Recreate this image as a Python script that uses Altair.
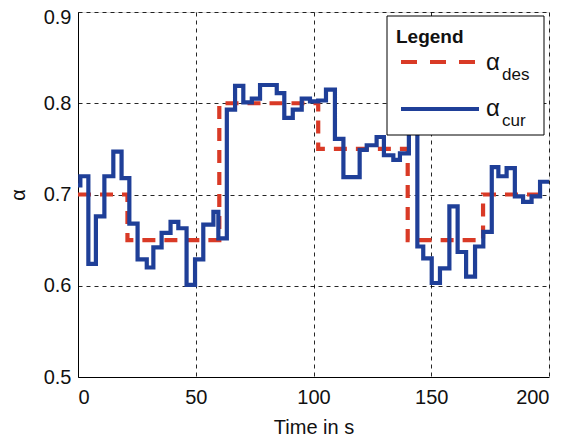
import altair as alt
import pandas as pd

# desired alpha (step values)
des_t = [0, 21, 60, 102, 140, 172, 200]
des_v = [0.70, 0.65, 0.80, 0.75, 0.65, 0.70, 0.70]

# current alpha (step values)
cur_t = [0, 1, 4.4, 7.6, 11.2, 15, 18.5, 21.8, 25.3, 29.2, 32, 35.5, 39.3, 42.6, 46.1, 49.7,
         53.2, 57.5, 59.6, 63.2, 66.7, 70.2, 73.8, 77.3, 84.4, 87.6, 91.2, 95, 98.5, 102,
         105.3, 109.1, 112.7, 119.6, 122.6, 126.8, 129.9, 133.9, 136.7, 140.5, 144.1, 146.6,
         150.2, 153.7, 157.7, 161.2, 164.8, 168.6, 172.1, 175.7, 178.5, 182, 185.5, 189,
         192.6, 196.2, 200]
cur_v = [0.71, 0.72, 0.624, 0.676, 0.72, 0.747, 0.718, 0.668, 0.629, 0.62, 0.642, 0.658, 0.67,
         0.663, 0.601, 0.629, 0.667, 0.681, 0.652, 0.793, 0.819, 0.801, 0.805, 0.82, 0.811,
         0.784, 0.793, 0.805, 0.802, 0.803, 0.815, 0.761, 0.719, 0.749, 0.754, 0.763, 0.743,
         0.738, 0.745, 0.79, 0.643, 0.63, 0.603, 0.619, 0.687, 0.637, 0.61, 0.643, 0.659,
         0.73, 0.72, 0.729, 0.698, 0.692, 0.698, 0.714, 0.714]

x_ticks = [0, 50, 100, 150, 200]
y_ticks = [0.5, 0.6, 0.7, 0.8, 0.9]

RED = "#d93a26"
BLUE = "#1f3f98"
FONT = "Liberation Sans"

des_df = pd.DataFrame({"t": des_t, "v": des_v})
cur_df = pd.DataFrame({"t": cur_t, "v": cur_v})

xs = alt.Scale(domain=[0, 200], nice=False, zero=False)
ys = alt.Scale(domain=[0.5, 0.9], nice=False, zero=False)

xax = alt.Axis(values=x_ticks, title="Time in s", grid=True, gridDash=[4, 4], gridColor="#000",
               gridOpacity=0.85, ticks=False, labelFontSize=20, titleFontSize=20,
               labelFont=FONT, titleFont=FONT, titleFontWeight="normal", labelColor="#111",
               titleColor="#111", domainColor="#000", labelPadding=10, titlePadding=10,
               format="d")
yax = alt.Axis(values=y_ticks, title="α", grid=True, gridDash=[4, 4], gridColor="#000",
               gridOpacity=0.85, ticks=False, labelFontSize=20, titleFontSize=20,
               labelFont=FONT, titleFont=FONT, titleFontWeight="normal", labelColor="#111",
               titleColor="#111", domainColor="#000", labelPadding=7, titlePadding=15,
               labelOffset={"condition": {"test": "datum.value == 0.9", "value": 5}, "value": 0},
               format=".1f")

des = alt.Chart(des_df).mark_line(interpolate="step-after", color=RED, strokeWidth=4.2,
                                  strokeDash=[13, 9]).encode(
    x=alt.X("t:Q", scale=xs, axis=xax), y=alt.Y("v:Q", scale=ys, axis=yax))
cur = alt.Chart(cur_df).mark_line(interpolate="step-after", color=BLUE, strokeWidth=4.2).encode(
    x=alt.X("t:Q", scale=xs), y=alt.Y("v:Q", scale=ys))

one = pd.DataFrame({"a": [0]})
box = alt.Chart(one).mark_rect(fill="white", stroke="#000", strokeWidth=1).encode(
    x=alt.value(309), x2=alt.value(466), y=alt.value(4), y2=alt.value(123))
title = alt.Chart(one).mark_text(text="Legend", fontWeight="bold", fontSize=19, font=FONT,
                                 align="left", baseline="alphabetic", color="#111").encode(
    x=alt.value(318), y=alt.value(31))
r1 = alt.Chart(one).mark_rule(color=RED, strokeWidth=4.2, strokeDash=[16, 13]).encode(
    x=alt.value(323), x2=alt.value(401), y=alt.value(50))
r2 = alt.Chart(one).mark_rule(color=BLUE, strokeWidth=4.2).encode(
    x=alt.value(323), x2=alt.value(401), y=alt.value(97))
a1 = alt.Chart(one).mark_text(text="α", fontSize=24, font=FONT, align="left",
                              baseline="alphabetic", color="#111").encode(
    x=alt.value(408), y=alt.value(58))
s1 = alt.Chart(one).mark_text(text="des", fontSize=17, font=FONT, align="left",
                              baseline="alphabetic", color="#111").encode(
    x=alt.value(424), y=alt.value(68))
a2 = alt.Chart(one).mark_text(text="α", fontSize=24, font=FONT, align="left",
                              baseline="alphabetic", color="#111").encode(
    x=alt.value(408), y=alt.value(104))
s2 = alt.Chart(one).mark_text(text="cur", fontSize=17, font=FONT, align="left",
                              baseline="alphabetic", color="#111").encode(
    x=alt.value(424), y=alt.value(114))

chart = alt.layer(des, cur, box, title, r1, r2, a1, s1, a2, s2).properties(
    width=471, height=365,
    autosize=alt.AutoSizeParams(type="none"),
    padding={"left": 70, "top": 4, "right": 15, "bottom": 63},
).configure_view(stroke="#000", strokeWidth=1.2).configure(background="white")

chart.save("out.html", embed_options={"renderer": "svg", "actions": False})
